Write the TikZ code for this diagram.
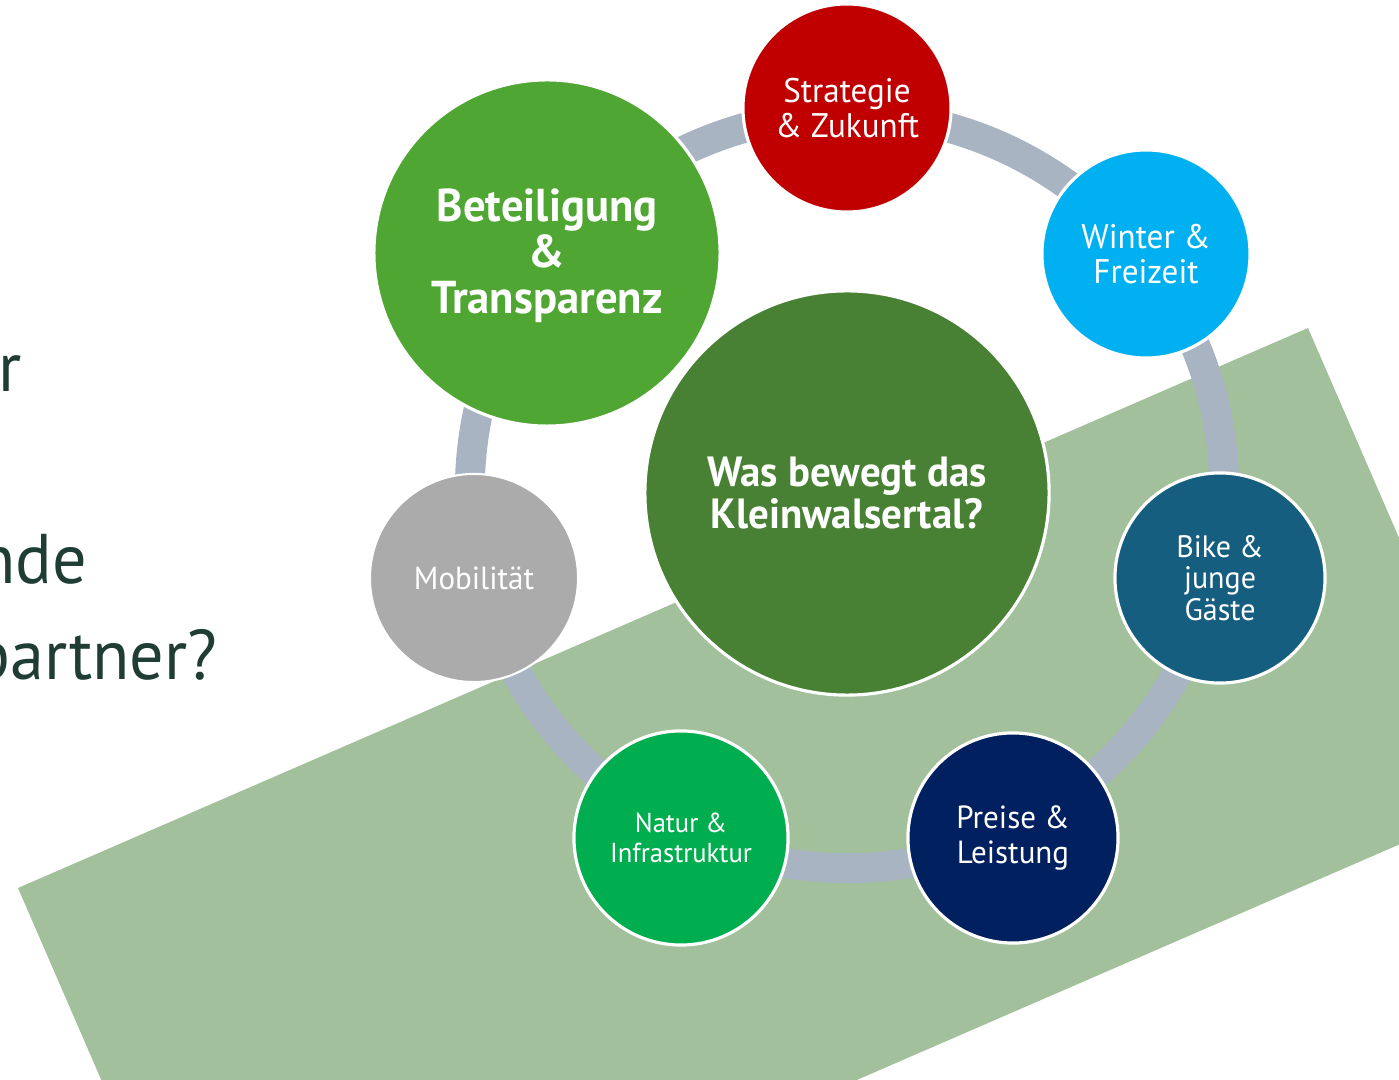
\documentclass[tikz,border=0pt]{standalone}
\usepackage{fontspec}
\setmainfont{PT Sans}[FakeStretch=0.97]
\definecolor{cred}{HTML}{C00000}
\definecolor{cgreen}{HTML}{50A632}
\definecolor{cblue}{HTML}{00B0F0}
\definecolor{cpetrol}{HTML}{165E80}
\definecolor{cnavy}{HTML}{002060}
\definecolor{cnature}{HTML}{00AD4F}
\definecolor{cgrey}{HTML}{ABABAB}
\definecolor{ccenter}{HTML}{488134}
\definecolor{cband}{HTML}{A2C09B}
\definecolor{cring}{HTML}{A9B4C2}
\definecolor{ctext}{HTML}{1F3D35}
\tikzset{
  topic/.style={circle, draw=white, line width=0.9pt, text=white, align=center, inner sep=0pt},
  ringline/.style={draw=cring, line width=8.5pt},
  lefttext/.style={anchor=base east, text=ctext, inner sep=0pt, font=\fontsize{20}{20}\selectfont},
}
\begin{document}
\begin{tikzpicture}[x=0.01cm,y=-0.01cm]
\useasboundingbox (0,0) rectangle (1399,1080);
\begin{scope}
\clip (0,0) rectangle (1399,1080);
% background band
\fill[cband] (18,888) -- (1308,328) -- (1511,796) -- (221,1356) -- cycle;
% left text
\node[lefttext] (t1) at (22,392) {r};
\node[lefttext] (t2) at (88,584) {nde};
\node[lefttext] (t3) at (218,680) {partner?};
% ring
\coordinate (ringc) at (847,491);
\draw[ringline] (ringc) circle (3.77cm);
% circles
\node[topic, fill=cred, minimum size=2.08cm, font=\fontsize{9.7}{10}\selectfont] (strat) at (847,108) {Strategie\\\& Zukunft};
\node[topic, fill=cgreen, minimum size=3.46cm, font=\fontsize{13.1}{13.1}\selectfont\bfseries] (beteil) at (547,253) {};
\node[text=white, align=center, inner sep=0pt, font=\fontsize{13.1}{13.1}\selectfont\bfseries] (beteiltxt) at (547,256) {Beteiligung\\\&\\Transparenz};
\node[topic, fill=cblue, minimum size=2.08cm, font=\fontsize{9.7}{10}\selectfont] (winter) at (1146,254) {Winter \&\\Freizeit};
\node[topic, fill=cpetrol, minimum size=2.1cm, font=\fontsize{8.8}{8.9}\selectfont] (bike) at (1220,578) {Bike \&\\junge\\Gäste};
\node[topic, fill=cnavy, minimum size=2.1cm, font=\fontsize{9.1}{10}\selectfont] (preise) at (1013,838) {Preise \&\\Leistung};
\node[topic, fill=cnature, minimum size=2.14cm, font=\fontsize{7.8}{8.4}\selectfont] (natur) at (681,838) {Natur \&\\Infrastruktur};
\node[topic, fill=cgrey, minimum size=2.08cm, line width=0.6pt, font=\fontsize{9.1}{10}\selectfont] (mobil) at (474,578) {Mobilität};
\node[topic, fill=ccenter, minimum size=4.04cm, font=\fontsize{12}{12}\selectfont\bfseries] (center) at (847,493) {Was bewegt das\\Kleinwalsertal?};
\end{scope}
\end{tikzpicture}
\end{document}
